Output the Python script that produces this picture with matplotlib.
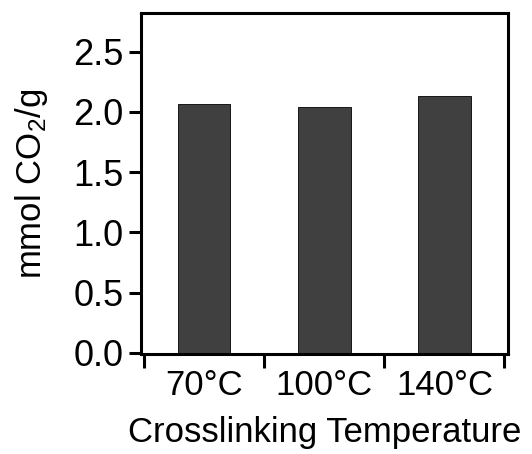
import matplotlib.pyplot as plt

plt.rcParams['font.family'] = ['Liberation Sans', 'DejaVu Sans']
plt.rcParams['mathtext.fontset'] = 'custom'
plt.rcParams['mathtext.rm'] = 'Liberation Sans'
plt.rcParams['mathtext.default'] = 'regular'

categories = ['70°C', '100°C', '140°C']
uptake = [2.07, 2.04, 2.13]
yticks = [0.0, 0.5, 1.0, 1.5, 2.0, 2.5]

fig = plt.figure(figsize=(5.32, 4.54), dpi=100)
ax = fig.add_axes([0.265, 0.22, 0.69, 0.751])

pos = list(range(len(categories)))
ax.bar(pos, uptake, width=0.44, color='#404040', edgecolor='black', linewidth=0.6)

ax.set_xlim(-0.525, 2.53)
ax.set_ylim(-0.01, 2.82)

ax.set_yticks(yticks)
ax.set_yticklabels([f'{v:.1f}' for v in yticks])

# boundary ticks as major ticks, labels on minor ticks at bar centres
ax.set_xticks([p - 0.5 for p in pos] + [pos[-1] + 0.5])
ax.set_xticklabels([])
ax.set_xticks(pos, minor=True)
ax.set_xticklabels(categories, minor=True)

ax.tick_params(axis='y', which='major', direction='out', length=9, width=2.2,
               labelsize=26, pad=3.5)
ax.tick_params(axis='x', which='major', direction='out', length=10, width=2.2)
ax.tick_params(axis='x', which='minor', length=0, labelsize=25, pad=11)

for s in ax.spines.values():
    s.set_linewidth(2.2)

ax.set_ylabel('mmol CO$_2$/g', fontsize=25, labelpad=17)
ax.set_xlabel('Crosslinking Temperature', fontsize=25, labelpad=10)

fig.savefig('out.png', dpi=100)
